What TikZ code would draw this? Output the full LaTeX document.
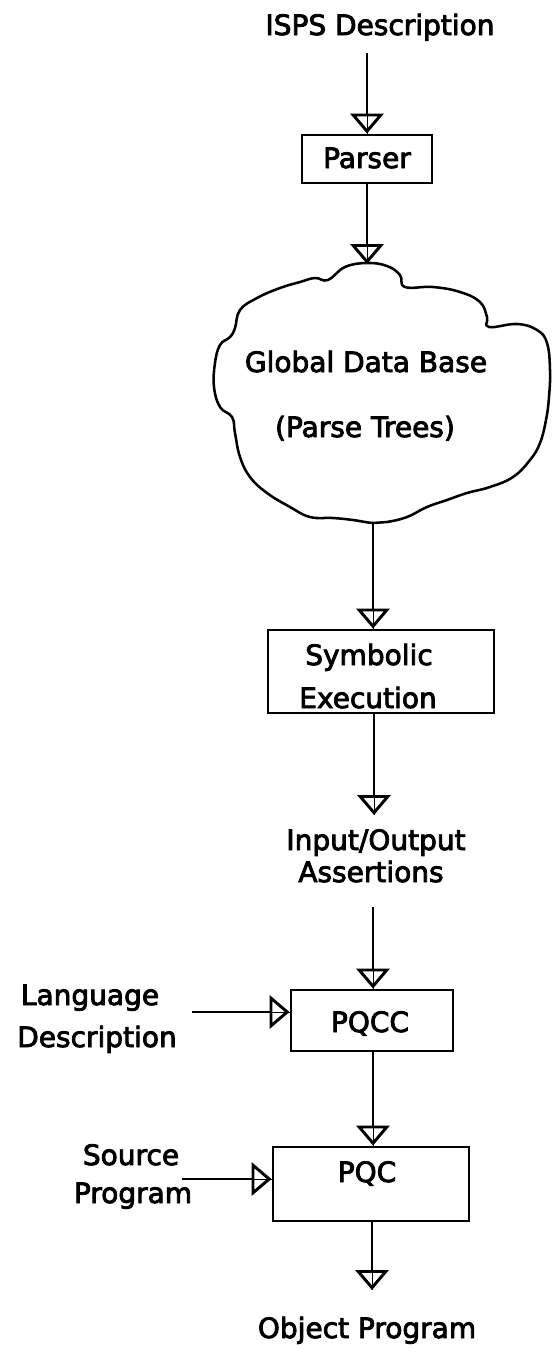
\documentclass[tikz,border=0pt]{standalone}
\usepackage{fontspec}
\setmainfont{DejaVu Sans}[FakeBold=3]
\usetikzlibrary{arrows.meta}
\begin{document}
\begin{tikzpicture}[x=0.75pt,y=-0.75pt,
  every node/.style={font=\fontsize{21pt}{25pt}\selectfont, inner sep=0pt},
  lbl/.style={anchor=base},
  box/.style={draw, rectangle, line width=2.2pt, inner sep=0pt},
  flow/.style={line width=2.2pt, preaction={draw,-},
    -{Triangle[open,length=15pt,width=25pt]}},
  cloudline/.style={line width=1.9pt, line join=round},
]
\useasboundingbox (0,0) rectangle (552,1349);

% input description and parser
\node[lbl] (isps) at (380,35) {ISPS Description};
\coordinate (ispsOut) at (367,53);
\node[box, minimum width=97.5pt, minimum height=36pt] (parser) at (367,159) {};
\node[lbl] (parserTxt) at (367,168) {Parser};

% global data base cloud
\draw[cloudline] plot[smooth cycle, tension=0.7] coordinates {
  (367,263) (387,266) (400,275) (405,287)
  (433,287) (460,292) (480,302) (487,317) (489,327)
  (517,324) (537,330) (547,343) (550,370) (549,397) (546,420) (540,443)
  (530,460) (513,477) (490,487) (467,493) (447,500) (427,507)
  (407,517) (387,522) (373,523) (353,520) (333,518) (310,517)
  (290,507) (267,493) (250,477) (240,457) (235,433) (232,417)
  (220,407) (214,387) (215,363) (220,345) (230,337) (235,328)
  (240,310) (257,298) (280,288) (300,282) (315,278) (328,280) (345,267)};
\coordinate (cloudTop) at (367,264);
\coordinate (cloudBot) at (373,523);
\node[lbl] (gdb) at (366,372) {Global Data Base};
\node[lbl] (trees) at (365,437) {(Parse Trees)};

% symbolic execution
\node[box, minimum width=169.5pt, minimum height=62.25pt] (symb) at (381,671.5) {};
\node[lbl] (symb1) at (369,665) {Symbolic};
\node[lbl] (symb2) at (368,708) {Execution};

% assertions
\coordinate (ioIn) at (374,815);
\coordinate (ioOut) at (373,907);
\node[lbl] (io1) at (376,850) {Input/Output};
\node[lbl] (io2) at (371,882) {Assertions};

% compiler-compiler
\node[box, minimum width=121.5pt, minimum height=45.75pt] (pqcc) at (372,1020.5) {};
\node[lbl] (pqccTxt) at (370,1032) {PQCC};
\node[lbl] (lang1) at (90,1005) {Language};
\node[lbl] (lang2) at (97,1047) {Description};
\coordinate (langOut) at (192,1012);

% production-quality compiler
\node[box, minimum width=147pt, minimum height=55.5pt] (pqc) at (371,1184) {};
\node[lbl] (pqcTxt) at (367,1182) {PQC};
\node[lbl] (src1) at (131,1165) {Source};
\node[lbl] (src2) at (133,1203) {Program};
\coordinate (srcOut) at (182,1179);
\coordinate (objIn) at (372,1290);
\node[lbl] (obj) at (367,1338) {Object Program};

% connectors
\draw[flow] (ispsOut) -- (parser.north);
\draw[flow] (parser.south) -- (cloudTop);
\draw[flow] (cloudBot) -- (cloudBot |- symb.north);
\draw[flow] (symb.south -| ioIn) -- (ioIn);
\draw[flow] (ioOut) -- (ioOut |- pqcc.north);
\draw[flow] (pqcc.south -| ioOut) -- (ioOut |- pqc.north);
\draw[flow] (pqc.south -| objIn) -- (objIn);
\draw[flow] (langOut) -- (langOut -| pqcc.west);
\draw[flow] (srcOut) -- (srcOut -| pqc.west);
\end{tikzpicture}
\end{document}
